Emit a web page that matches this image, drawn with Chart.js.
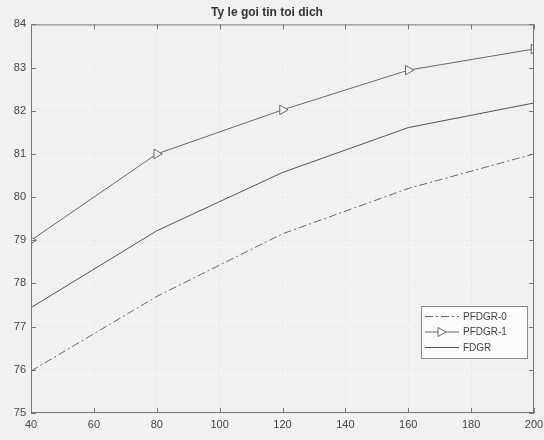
<!DOCTYPE html>
<html>
<head>
<meta charset="utf-8">
<script src="https://cdn.jsdelivr.net/npm/chart.js@4"></script>
<style>
  html, body { margin: 0; padding: 0; background: #f1f1ef; }
  #wrap { width: 544px; height: 440px; }
</style>
</head>
<body>
<div id="wrap"><canvas id="c" width="544" height="440"></canvas></div>
<script>
// values
const xs = [40, 80, 120, 160, 200];
const pfdgr0 = [75.97, 77.7, 79.15, 80.2, 81.0];
const pfdgr1 = [79.0, 81.0, 82.02, 82.94, 83.43];
const fdgr = [77.44, 79.22, 80.57, 81.61, 82.18];
const xTicks = [40, 60, 80, 100, 120, 140, 160, 180, 200];
const yTicks = [75, 76, 77, 78, 79, 80, 81, 82, 83, 84];

const lineCol = "#6a6a6a";
const toPts = (arr) => arr.map((v, i) => ({ x: xs[i], y: v }));

// MATLAB style: box around plot, ticks pointing inward, legend inside
const matlabBox = {
  id: "matlabBox",
  afterDatasetsDraw(chart) {
    const { ctx, chartArea: a, scales } = chart;
    ctx.save();
    ctx.strokeStyle = "#777";
    ctx.lineWidth = 1;
    ctx.strokeRect(a.left + 0.5, a.top + 0.5, a.right - a.left - 1, a.bottom - a.top - 1);
    ctx.beginPath();
    xTicks.forEach(t => {
      const px = Math.round(scales.x.getPixelForValue(t)) + 0.5;
      ctx.moveTo(px, a.bottom); ctx.lineTo(px, a.bottom - 5);
      ctx.moveTo(px, a.top); ctx.lineTo(px, a.top + 5);
    });
    yTicks.forEach(t => {
      const py = Math.round(scales.y.getPixelForValue(t)) + 0.5;
      ctx.moveTo(a.left, py); ctx.lineTo(a.left + 5, py);
      ctx.moveTo(a.right, py); ctx.lineTo(a.right - 5, py);
    });
    ctx.stroke();

    // legend box
    const bx = 421, by = 306, bw = 106, bh = 52;
    ctx.fillStyle = "#fbfbfa";
    ctx.fillRect(bx, by, bw, bh);
    ctx.strokeStyle = "#888";
    ctx.strokeRect(bx + 0.5, by + 0.5, bw, bh);
    ctx.font = "10px 'Liberation Sans', Arial, sans-serif";
    ctx.textBaseline = "middle";
    chart.data.datasets.forEach((ds, i) => {
      const y = by + 10 + i * 15.5;
      ctx.strokeStyle = ds.borderColor;
      ctx.lineWidth = 1;
      ctx.setLineDash(ds.borderDash || []);
      ctx.beginPath();
      ctx.moveTo(bx + 4, y + 0.5); ctx.lineTo(bx + 38, y + 0.5);
      ctx.stroke();
      ctx.setLineDash([]);
      if (ds.pointRadius > 0) {
        // small right-pointing triangle like the data markers
        ctx.beginPath();
        ctx.moveTo(bx + 17, y - 4); ctx.lineTo(bx + 25, y + 0.5); ctx.lineTo(bx + 17, y + 5);
        ctx.closePath();
        ctx.fillStyle = "#fbfbfa";
        ctx.fill();
        ctx.stroke();
      }
      ctx.fillStyle = "#444";
      ctx.fillText(ds.label, bx + 42, y + 1);
    });
    ctx.restore();
  }
};

new Chart(document.getElementById("c"), {
  type: "line",
  data: {
    datasets: [
      {
        label: "PFDGR-0",
        data: toPts(pfdgr0),
        borderColor: lineCol,
        borderWidth: 1,
        borderDash: [8, 3, 2, 3],
        pointRadius: 0,
        tension: 0
      },
      {
        label: "PFDGR-1",
        data: toPts(pfdgr1),
        borderColor: lineCol,
        borderWidth: 1,
        pointStyle: "triangle",
        rotation: 90,
        pointRadius: 5.5,
        pointBorderColor: "#6a6a6a",
        pointBackgroundColor: "rgba(245,245,243,1)",
        pointBorderWidth: 1,
        tension: 0
      },
      {
        label: "FDGR",
        data: toPts(fdgr),
        borderColor: "#555",
        borderWidth: 1,
        pointRadius: 0,
        tension: 0
      }
    ]
  },
  options: {
    responsive: false,
    animation: false,
    layout: { padding: { left: 0, right: 10, top: 0, bottom: 0 } },
    plugins: {
      legend: { display: false },
      tooltip: { enabled: false },
      title: {
        display: true,
        text: "Ty le goi tin toi dich",
        color: "#333",
        font: { family: "'Liberation Sans', Arial, sans-serif", size: 12, weight: "bold" },
        padding: { top: 5, bottom: 5 }
      }
    },
    scales: {
      x: {
        type: "linear",
        min: 40, max: 200,
        afterBuildTicks: s => { s.ticks = xTicks.map(v => ({ value: v })); },
        afterFit: s => { s.height = 27; s.paddingLeft = 0; s.paddingRight = 0; },
        ticks: {
          color: "#444",
          padding: 5,
          font: { family: "'Liberation Sans', Arial, sans-serif", size: 11 }
        },
        grid: { color: "#dedede", drawTicks: false, lineWidth: 1 },
        border: { display: false, dash: [1, 3] }
      },
      y: {
        min: 75, max: 84,
        afterBuildTicks: s => { s.ticks = yTicks.map(v => ({ value: v })); },
        afterFit: s => { s.width = 31; s.paddingTop = 0; s.paddingBottom = 0; },
        ticks: {
          color: "#444",
          padding: 5,
          font: { family: "'Liberation Sans', Arial, sans-serif", size: 11 }
        },
        grid: { color: "#dedede", drawTicks: false, lineWidth: 1 },
        border: { display: false, dash: [1, 3] }
      }
    }
  },
  plugins: [matlabBox]
});
</script>
</body>
</html>
